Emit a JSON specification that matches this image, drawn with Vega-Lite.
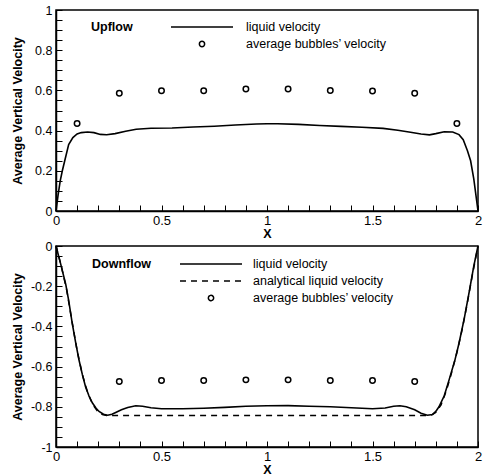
{
  "$schema": "https://vega.github.io/schema/vega-lite/v6.json",
  "padding": {"left": 10, "top": 3, "right": 4, "bottom": 5},
  "spacing": 35,
  "bounds": "flush",
  "resolve": {"scale": {"color": "independent"}, "legend": {"color": "independent"}},
  "datasets": {
    "upLiquid": [
      {"x": 0, "v": 0, "series": "liquid velocity"},
      {"x": 0.01, "v": 0.08, "series": "liquid velocity"},
      {"x": 0.02, "v": 0.15, "series": "liquid velocity"},
      {"x": 0.03, "v": 0.2, "series": "liquid velocity"},
      {"x": 0.046, "v": 0.27, "series": "liquid velocity"},
      {"x": 0.06, "v": 0.33, "series": "liquid velocity"},
      {"x": 0.08, "v": 0.365, "series": "liquid velocity"},
      {"x": 0.1, "v": 0.383, "series": "liquid velocity"},
      {"x": 0.12, "v": 0.39, "series": "liquid velocity"},
      {"x": 0.15, "v": 0.393, "series": "liquid velocity"},
      {"x": 0.18, "v": 0.39, "series": "liquid velocity"},
      {"x": 0.21, "v": 0.381, "series": "liquid velocity"},
      {"x": 0.24, "v": 0.379, "series": "liquid velocity"},
      {"x": 0.28, "v": 0.385, "series": "liquid velocity"},
      {"x": 0.33, "v": 0.397, "series": "liquid velocity"},
      {"x": 0.38, "v": 0.407, "series": "liquid velocity"},
      {"x": 0.45, "v": 0.412, "series": "liquid velocity"},
      {"x": 0.55, "v": 0.413, "series": "liquid velocity"},
      {"x": 0.65, "v": 0.418, "series": "liquid velocity"},
      {"x": 0.75, "v": 0.422, "series": "liquid velocity"},
      {"x": 0.85, "v": 0.428, "series": "liquid velocity"},
      {"x": 0.95, "v": 0.433, "series": "liquid velocity"},
      {"x": 1.0, "v": 0.434, "series": "liquid velocity"},
      {"x": 1.05, "v": 0.434, "series": "liquid velocity"},
      {"x": 1.15, "v": 0.431, "series": "liquid velocity"},
      {"x": 1.25, "v": 0.425, "series": "liquid velocity"},
      {"x": 1.35, "v": 0.421, "series": "liquid velocity"},
      {"x": 1.45, "v": 0.417, "series": "liquid velocity"},
      {"x": 1.55, "v": 0.411, "series": "liquid velocity"},
      {"x": 1.62, "v": 0.402, "series": "liquid velocity"},
      {"x": 1.68, "v": 0.392, "series": "liquid velocity"},
      {"x": 1.73, "v": 0.383, "series": "liquid velocity"},
      {"x": 1.77, "v": 0.379, "series": "liquid velocity"},
      {"x": 1.8, "v": 0.385, "series": "liquid velocity"},
      {"x": 1.84, "v": 0.394, "series": "liquid velocity"},
      {"x": 1.88, "v": 0.393, "series": "liquid velocity"},
      {"x": 1.91, "v": 0.38, "series": "liquid velocity"},
      {"x": 1.93, "v": 0.355, "series": "liquid velocity"},
      {"x": 1.95, "v": 0.3, "series": "liquid velocity"},
      {"x": 1.965, "v": 0.25, "series": "liquid velocity"},
      {"x": 1.98, "v": 0.16, "series": "liquid velocity"},
      {"x": 1.99, "v": 0.08, "series": "liquid velocity"},
      {"x": 2.0, "v": 0, "series": "liquid velocity"}
    ],
    "upBubbles": [
      {"x": 0.1, "v": 0.435, "series": "average bubbles’ velocity"},
      {"x": 0.3, "v": 0.586, "series": "average bubbles’ velocity"},
      {"x": 0.5, "v": 0.598, "series": "average bubbles’ velocity"},
      {"x": 0.7, "v": 0.598, "series": "average bubbles’ velocity"},
      {"x": 0.9, "v": 0.607, "series": "average bubbles’ velocity"},
      {"x": 1.1, "v": 0.607, "series": "average bubbles’ velocity"},
      {"x": 1.3, "v": 0.599, "series": "average bubbles’ velocity"},
      {"x": 1.5, "v": 0.597, "series": "average bubbles’ velocity"},
      {"x": 1.7, "v": 0.586, "series": "average bubbles’ velocity"},
      {"x": 1.9, "v": 0.435, "series": "average bubbles’ velocity"}
    ],
    "downLiquid": [
      {"x": 0, "v": 0, "series": "liquid velocity"},
      {"x": 0.02, "v": -0.08, "series": "liquid velocity"},
      {"x": 0.046, "v": -0.19, "series": "liquid velocity"},
      {"x": 0.06, "v": -0.27, "series": "liquid velocity"},
      {"x": 0.077, "v": -0.385, "series": "liquid velocity"},
      {"x": 0.093, "v": -0.48, "series": "liquid velocity"},
      {"x": 0.109, "v": -0.567, "series": "liquid velocity"},
      {"x": 0.125, "v": -0.64, "series": "liquid velocity"},
      {"x": 0.14, "v": -0.7, "series": "liquid velocity"},
      {"x": 0.156, "v": -0.745, "series": "liquid velocity"},
      {"x": 0.172, "v": -0.78, "series": "liquid velocity"},
      {"x": 0.19, "v": -0.807, "series": "liquid velocity"},
      {"x": 0.204, "v": -0.823, "series": "liquid velocity"},
      {"x": 0.225, "v": -0.837, "series": "liquid velocity"},
      {"x": 0.245, "v": -0.842, "series": "liquid velocity"},
      {"x": 0.265, "v": -0.837, "series": "liquid velocity"},
      {"x": 0.283, "v": -0.828, "series": "liquid velocity"},
      {"x": 0.31, "v": -0.815, "series": "liquid velocity"},
      {"x": 0.34, "v": -0.803, "series": "liquid velocity"},
      {"x": 0.378, "v": -0.795, "series": "liquid velocity"},
      {"x": 0.41, "v": -0.797, "series": "liquid velocity"},
      {"x": 0.45, "v": -0.805, "series": "liquid velocity"},
      {"x": 0.5, "v": -0.81, "series": "liquid velocity"},
      {"x": 0.6, "v": -0.81, "series": "liquid velocity"},
      {"x": 0.7, "v": -0.807, "series": "liquid velocity"},
      {"x": 0.8, "v": -0.803, "series": "liquid velocity"},
      {"x": 0.9, "v": -0.797, "series": "liquid velocity"},
      {"x": 1.0, "v": -0.795, "series": "liquid velocity"},
      {"x": 1.1, "v": -0.794, "series": "liquid velocity"},
      {"x": 1.2, "v": -0.797, "series": "liquid velocity"},
      {"x": 1.3, "v": -0.8, "series": "liquid velocity"},
      {"x": 1.4, "v": -0.805, "series": "liquid velocity"},
      {"x": 1.5, "v": -0.81, "series": "liquid velocity"},
      {"x": 1.56, "v": -0.806, "series": "liquid velocity"},
      {"x": 1.6, "v": -0.797, "series": "liquid velocity"},
      {"x": 1.63, "v": -0.795, "series": "liquid velocity"},
      {"x": 1.66, "v": -0.8, "series": "liquid velocity"},
      {"x": 1.7, "v": -0.815, "series": "liquid velocity"},
      {"x": 1.73, "v": -0.832, "series": "liquid velocity"},
      {"x": 1.76, "v": -0.842, "series": "liquid velocity"},
      {"x": 1.785, "v": -0.838, "series": "liquid velocity"},
      {"x": 1.8, "v": -0.823, "series": "liquid velocity"},
      {"x": 1.815, "v": -0.8, "series": "liquid velocity"},
      {"x": 1.84, "v": -0.745, "series": "liquid velocity"},
      {"x": 1.863, "v": -0.666, "series": "liquid velocity"},
      {"x": 1.89, "v": -0.57, "series": "liquid velocity"},
      {"x": 1.91, "v": -0.484, "series": "liquid velocity"},
      {"x": 1.935, "v": -0.36, "series": "liquid velocity"},
      {"x": 1.957, "v": -0.236, "series": "liquid velocity"},
      {"x": 1.98, "v": -0.1, "series": "liquid velocity"},
      {"x": 2.0, "v": 0, "series": "liquid velocity"}
    ],
    "downAnalytical": [
      {"x": 0, "v": 0, "series": "analytical liquid velocity"},
      {"x": 0.025, "v": -0.1, "series": "analytical liquid velocity"},
      {"x": 0.05, "v": -0.215, "series": "analytical liquid velocity"},
      {"x": 0.075, "v": -0.37, "series": "analytical liquid velocity"},
      {"x": 0.1, "v": -0.52, "series": "analytical liquid velocity"},
      {"x": 0.125, "v": -0.64, "series": "analytical liquid velocity"},
      {"x": 0.15, "v": -0.73, "series": "analytical liquid velocity"},
      {"x": 0.175, "v": -0.79, "series": "analytical liquid velocity"},
      {"x": 0.2, "v": -0.826, "series": "analytical liquid velocity"},
      {"x": 0.22, "v": -0.838, "series": "analytical liquid velocity"},
      {"x": 0.24, "v": -0.843, "series": "analytical liquid velocity"},
      {"x": 1.76, "v": -0.843, "series": "analytical liquid velocity"},
      {"x": 1.78, "v": -0.84, "series": "analytical liquid velocity"},
      {"x": 1.8, "v": -0.828, "series": "analytical liquid velocity"},
      {"x": 1.825, "v": -0.79, "series": "analytical liquid velocity"},
      {"x": 1.85, "v": -0.72, "series": "analytical liquid velocity"},
      {"x": 1.875, "v": -0.63, "series": "analytical liquid velocity"},
      {"x": 1.9, "v": -0.53, "series": "analytical liquid velocity"},
      {"x": 1.925, "v": -0.415, "series": "analytical liquid velocity"},
      {"x": 1.95, "v": -0.28, "series": "analytical liquid velocity"},
      {"x": 1.975, "v": -0.135, "series": "analytical liquid velocity"},
      {"x": 2.0, "v": 0, "series": "analytical liquid velocity"}
    ],
    "downBubbles": [
      {"x": 0.3, "v": -0.674, "series": "average bubbles’ velocity"},
      {"x": 0.5, "v": -0.669, "series": "average bubbles’ velocity"},
      {"x": 0.7, "v": -0.669, "series": "average bubbles’ velocity"},
      {"x": 0.9, "v": -0.666, "series": "average bubbles’ velocity"},
      {"x": 1.1, "v": -0.666, "series": "average bubbles’ velocity"},
      {"x": 1.3, "v": -0.669, "series": "average bubbles’ velocity"},
      {"x": 1.5, "v": -0.669, "series": "average bubbles’ velocity"},
      {"x": 1.7, "v": -0.674, "series": "average bubbles’ velocity"}
    ]
  },
  "vconcat": [
    {
      "width": 422,
      "height": 201,
      "encoding": {
        "x": {"field": "x", "type": "quantitative", "scale": {"domain": [0, 2], "nice": false, "zero": false},
          "axis": {"title": "X", "values": [0,0.1,0.2,0.3,0.4,0.5,0.6,0.7,0.8,0.9,1,1.1,1.2,1.3,1.4,1.5,1.6,1.7,1.8,1.9,2],
            "labelExpr": "abs(datum.value*2 - round(datum.value*2)) < 1e-6 ? '' + datum.value : ''",
            "labelFontSize": 13, "labelPadding": 9, "titlePadding": 0, "labelFlush": false, "labelOverlap": false,
            "encode": {"ticks": {"update": {"y2": {"signal": "abs(datum.value*2 - round(datum.value*2)) < 1e-6 ? -6 : -3"}}}}}},
        "y": {"field": "v", "type": "quantitative", "scale": {"domain": [0, 1], "nice": false, "zero": false},
          "axis": {"title": "Average Vertical Velocity", "values": [0,0.05,0.1,0.15,0.2,0.25,0.3,0.35,0.4,0.45,0.5,0.55,0.6,0.65,0.7,0.75,0.8,0.85,0.9,0.95,1],
            "labelExpr": "abs(datum.value*5 - round(datum.value*5)) < 1e-6 ? '' + datum.value : ''",
            "labelFontSize": 12.5, "labelPadding": 10, "labelFlush": false, "labelOverlap": false,
            "titleX": -32, "titleY": 100.5, "titleBaseline": "bottom",
            "encode": {"ticks": {"update": {"x2": {"signal": "abs(datum.value*5 - round(datum.value*5)) < 1e-6 ? 6 : 3"}}}}}},
        "color": {"field": "series", "type": "nominal",
          "scale": {"domain": ["liquid velocity", "average bubbles’ velocity"], "range": ["black", "black"]},
          "legend": {"orient": "none", "legendX": 35, "legendY": 10.5, "direction": "vertical", "columns": 1,
            "title": "Upflow", "titleOrient": "left", "titleAnchor": "start", "titleBaseline": "top", "titlePadding": 37, "titleFontSize": 12.5, "titleFontWeight": "bold",
            "symbolSize": 3844, "clipHeight": 13, "rowPadding": 4, "labelOffset": 12, "padding": 0,
            "labelFontSize": 12.5,
            "encode": {"symbols": {"update": {
              "shape": {"signal": "datum.value == 'liquid velocity' ? 'stroke' : 'M-0.085,0A0.085,0.085,0,1,1,0.085,0A0.085,0.085,0,1,1,-0.085,0Z'"},
              "fill": {"value": "transparent"}, "stroke": {"value": "black"}, "strokeWidth": {"value": 1.5}, "opacity": {"value": 1}}}}}}
      },
      "layer": [
        {"data": {"name": "upLiquid"}, "mark": {"type": "line", "strokeWidth": 1.6}},
        {"data": {"name": "upBubbles"}, "mark": {"type": "point", "shape": "circle", "filled": false, "size": 30, "strokeWidth": 1.5, "opacity": 1}}
      ]
    },
    {
      "width": 422,
      "height": 201,
      "encoding": {
        "x": {"field": "x", "type": "quantitative", "scale": {"domain": [0, 2], "nice": false, "zero": false},
          "axis": {"title": "X", "values": [0,0.1,0.2,0.3,0.4,0.5,0.6,0.7,0.8,0.9,1,1.1,1.2,1.3,1.4,1.5,1.6,1.7,1.8,1.9,2],
            "labelExpr": "abs(datum.value*2 - round(datum.value*2)) < 1e-6 ? '' + datum.value : ''",
            "labelFontSize": 13, "labelPadding": 9, "titlePadding": 0, "labelFlush": false, "labelOverlap": false,
            "encode": {"ticks": {"update": {"y2": {"signal": "abs(datum.value*2 - round(datum.value*2)) < 1e-6 ? -6 : -3"}}}}}},
        "y": {"field": "v", "type": "quantitative", "scale": {"domain": [-1, 0], "nice": false, "zero": false},
          "axis": {"title": "Average Vertical Velocity", "values": [-1,-0.95,-0.9,-0.85,-0.8,-0.75,-0.7,-0.65,-0.6,-0.55,-0.5,-0.45,-0.4,-0.35,-0.3,-0.25,-0.2,-0.15,-0.1,-0.05,0],
            "labelExpr": "abs(datum.value*5 - round(datum.value*5)) < 1e-6 ? '' + datum.value : ''",
            "labelFontSize": 12.5, "labelPadding": 10, "labelFlush": false, "labelOverlap": false,
            "titleX": -32, "titleY": 100.5, "titleBaseline": "bottom",
            "encode": {"ticks": {"update": {"x2": {"signal": "abs(datum.value*5 - round(datum.value*5)) < 1e-6 ? 6 : 3"}}}}}},
        "color": {"field": "series", "type": "nominal",
          "scale": {"domain": ["liquid velocity", "analytical liquid velocity", "average bubbles’ velocity"], "range": ["black", "black", "black"]},
          "legend": {"orient": "none", "legendX": 36, "legendY": 11.5, "direction": "vertical", "columns": 1,
            "title": "Downflow", "titleOrient": "left", "titleAnchor": "start", "titleBaseline": "top", "titlePadding": 27, "titleFontSize": 12.5, "titleFontWeight": "bold",
            "symbolSize": 3844, "clipHeight": 13, "rowPadding": 4, "labelOffset": 10, "padding": 0,
            "labelFontSize": 12.5,
            "encode": {"symbols": {"update": {
              "shape": {"signal": "datum.value == 'liquid velocity' || datum.value == 'analytical liquid velocity' ? 'stroke' : 'M-0.085,0A0.085,0.085,0,1,1,0.085,0A0.085,0.085,0,1,1,-0.085,0Z'"},
              "strokeDash": {"signal": "datum.value == 'analytical liquid velocity' ? [6, 5] : [1, 0]"},
              "fill": {"value": "transparent"}, "stroke": {"value": "black"}, "strokeWidth": {"value": 1.5}, "opacity": {"value": 1}}}}}}
      },
      "layer": [
        {"data": {"name": "downAnalytical"}, "mark": {"type": "line", "strokeWidth": 1.5, "strokeDash": [6, 5]}},
        {"data": {"name": "downLiquid"}, "mark": {"type": "line", "strokeWidth": 1.6}},
        {"data": {"name": "downBubbles"}, "mark": {"type": "point", "shape": "circle", "filled": false, "size": 30, "strokeWidth": 1.5, "opacity": 1}}
      ]
    }
  ],
  "config": {
    "font": "Liberation Sans",
    "view": {"stroke": "black", "strokeWidth": 1.5},
    "axis": {"grid": false, "domainColor": "black", "domainWidth": 1.5, "tickColor": "black", "tickWidth": 1, "tickSize": -6,
      "labelFont": "Liberation Sans", "labelColor": "black", "titleFont": "Liberation Sans", "titleFontWeight": "bold",
      "titleColor": "black", "titleFontSize": 12.5},
    "legend": {"labelFont": "Liberation Sans", "labelColor": "black", "titleFont": "Liberation Sans", "titleColor": "black"}
  }
}
